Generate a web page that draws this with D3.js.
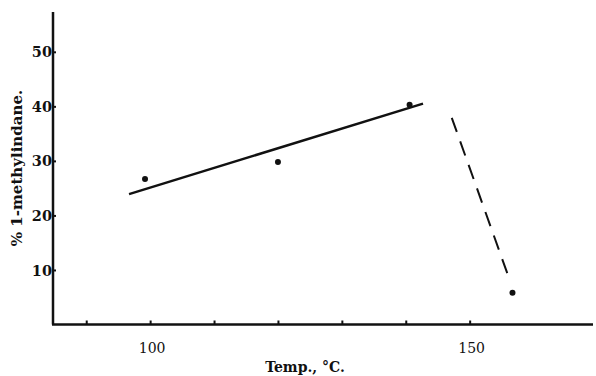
<!DOCTYPE html>
<html><head><meta charset="utf-8">
<script src="https://cdn.jsdelivr.net/npm/d3@7"></script>
<style>html,body{margin:0;padding:0;background:#fff;}</style>
</head><body>
<script>
// Data
const temps = [99.2, 120.0, 140.6, 156.7];
const pct = [26.7, 29.8, 40.3, 5.8];
const fitTemps = [96.7, 142.7];
const fitPct = [23.9, 40.5];
const dashTemps = [147.2, 156.25];
const dashPct = [37.9, 8.2];
const xTickValues = [90, 100, 110, 120, 130, 140, 150];
const xTickLabels = ["100", "150"];
const yTickValues = [10, 20, 30, 40, 50];
const xTitle = "Temp., °C.";
const yTitle = "% 1-methylindane.";

const W = 596, H = 376;
const svg = d3.select("body").append("svg").attr("width", W).attr("height", H);
const x = d3.scaleLinear().domain([84.8, 169.3]).range([53, 593]);
const y = d3.scaleLinear().domain([0, 57.3]).range([324.5, 12]);
const font = "'DejaVu Serif', 'Liberation Serif', serif";
const ink = "#111";

// axes lines
svg.append("line").attr("x1", x(84.8)).attr("x2", x(84.8)).attr("y1", y(57.3)).attr("y2", y(0))
  .attr("stroke", ink).attr("stroke-width", 2.5);
svg.append("line").attr("x1", x(84.8) - 1).attr("x2", x(169.3)).attr("y1", y(0)).attr("y2", y(0))
  .attr("stroke", ink).attr("stroke-width", 2.5);

// x ticks
const xAxis = d3.axisBottom(x).tickValues(xTickValues).tickSize(0).tickFormat(() => "");
const gx = svg.append("g").attr("transform", `translate(0,${y(0)})`).call(xAxis);
gx.select(".domain").remove();
gx.selectAll(".tick").append("line").attr("y1", -4).attr("y2", 0).attr("stroke", ink).attr("stroke-width", 2);
svg.append("g").selectAll("text").data(xTickLabels).join("text")
  .attr("x", d => x(+d) + 2).attr("y", 353)
  .attr("text-anchor", "middle").attr("font-family", font).attr("font-size", 14)
  .attr("fill", ink).text(d => d);

// y ticks
const yAxis = d3.axisLeft(y).tickValues(yTickValues).tickSize(0).tickFormat(d => d);
const gy = svg.append("g").attr("transform", `translate(${x(84.8)},0)`).call(yAxis);
gy.select(".domain").remove();
gy.selectAll(".tick line").remove();
gy.selectAll(".tick").append("line").attr("x1", -1).attr("x2", 3).attr("stroke", ink).attr("stroke-width", 2);
gy.selectAll(".tick text").attr("x", -1).attr("dy", "0.35em")
  .attr("font-family", font).attr("font-size", 14.5).attr("font-weight", "bold").attr("fill", ink);

// titles
svg.append("text").attr("x", 305).attr("y", 372).attr("text-anchor", "middle")
  .attr("font-family", font).attr("font-size", 14).attr("font-weight", "bold").attr("fill", ink).text(xTitle);
svg.append("text").attr("transform", "translate(22,168) rotate(-90)").attr("text-anchor", "middle")
  .attr("font-family", font).attr("font-size", 15).attr("font-weight", "bold").attr("fill", ink).text(yTitle);

// fit line
const line = d3.line().x(d => x(d[0])).y(d => y(d[1]));
svg.append("path").datum(d3.zip(fitTemps, fitPct)).attr("d", line)
  .attr("fill", "none").attr("stroke", ink).attr("stroke-width", 2.5);
svg.append("path").datum(d3.zip(dashTemps, dashPct)).attr("d", line)
  .attr("fill", "none").attr("stroke", ink).attr("stroke-width", 2).attr("stroke-dasharray", "15,10");

// points
svg.append("g").selectAll("circle").data(d3.zip(temps, pct)).join("circle")
  .attr("cx", d => x(d[0])).attr("cy", d => y(d[1])).attr("r", 3).attr("fill", ink);
</script>
</body></html>
